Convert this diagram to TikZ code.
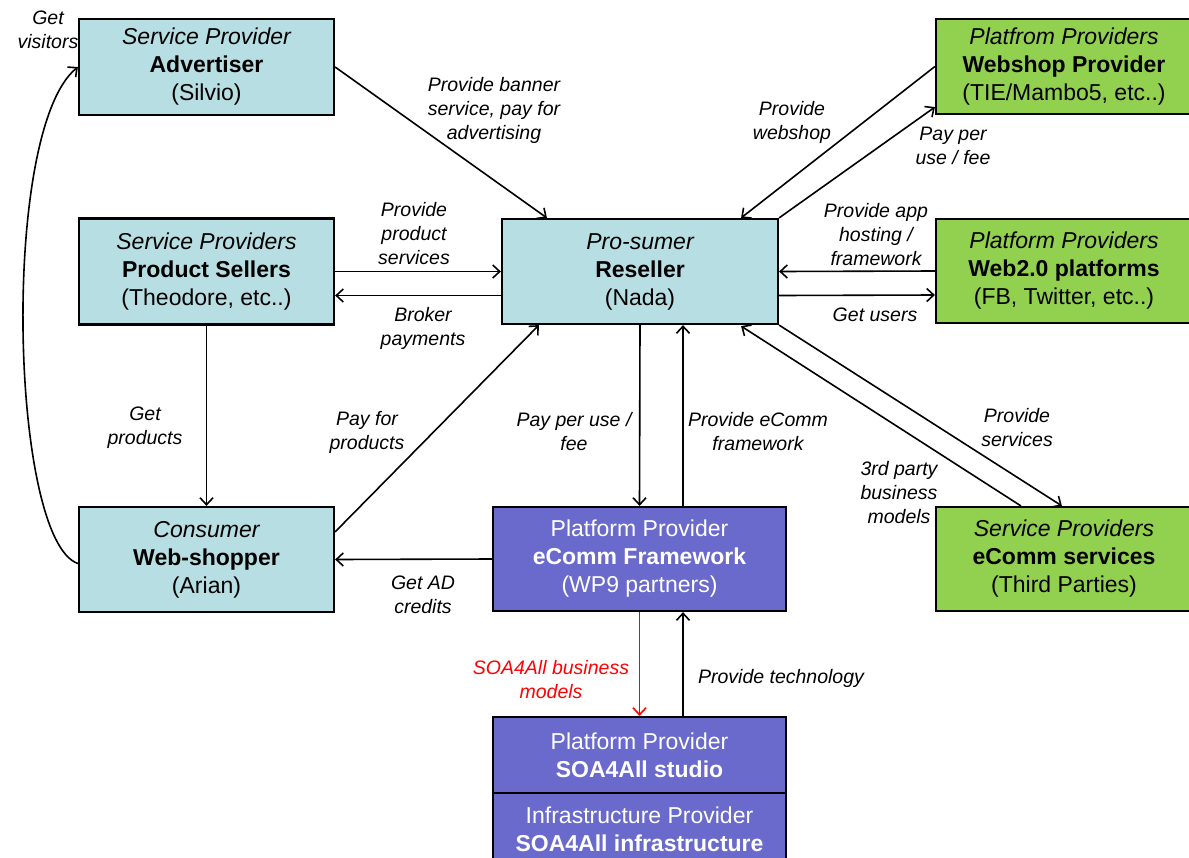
\documentclass[tikz,border=0pt]{standalone}
\usepackage{fontspec}
\setmainfont{Liberation Sans}
\usetikzlibrary{arrows.meta,calc}
\definecolor{bluefill}{RGB}{183,222,226}
\definecolor{greenfill}{RGB}{146,208,80}
\definecolor{purplefill}{RGB}{106,106,204}
\definecolor{redtext}{RGB}{255,0,0}
\begin{document}
\begin{tikzpicture}[x=1pt,y=-1pt,
  box/.style={draw=black,line width=2.2pt,inner sep=0pt,align=center,font=\fontsize{23}{28}\selectfont},
  bluebox/.style={box,fill=bluefill},
  greenbox/.style={box,fill=greenfill},
  purplebox/.style={box,fill=purplefill,text=white},
  lbl/.style={align=center,inner sep=0pt,font=\fontsize{19.5}{24}\selectfont\itshape},
  conn/.style={line width=1.6pt,-{Straight Barb[length=7pt,width=13pt]}},
  plain/.style={line width=1.5pt}
]
\useasboundingbox (0,0) rectangle (1189,857);

% boxes
\node[bluebox,minimum width=255pt,minimum height=96pt] (adv) at (206.5,67)
  {{\itshape Service Provider}\\{\bfseries Advertiser}\\(Silvio)};
\node[bluebox,minimum width=255pt,minimum height=106pt] (ps) at (206.5,271.5)
  {{\itshape Service Providers}\\{\bfseries Product Sellers}\\(Theodore, etc..)};
\node[bluebox,minimum width=255pt,minimum height=105pt] (con) at (206.5,559.5)
  {{\itshape Consumer}\\{\bfseries Web-shopper}\\(Arian)};
\node[bluebox,minimum width=276pt,minimum height=105pt] (res) at (640,271.5)
  {{\itshape Pro-sumer}\\{\bfseries Reseller}\\(Nada)};
\node[greenbox,minimum width=256pt,minimum height=95pt] (web) at (1064,66.5)
  {{\itshape Platfrom Providers}\\{\bfseries Webshop Provider}\\(TIE/Mambo5, etc..)};
\node[greenbox,minimum width=256pt,minimum height=104pt] (w2) at (1064,271)
  {{\itshape Platform Providers}\\{\bfseries Web2.0 platforms}\\(FB, Twitter, etc..)};
\node[greenbox,minimum width=256pt,minimum height=104pt] (ecs) at (1064,559)
  {{\itshape Service Providers}\\{\bfseries eComm services}\\(Third Parties)};
\node[purplebox,minimum width=293pt,minimum height=104pt] (fw) at (639.5,559)
  {Platform Provider\\{\bfseries eComm Framework}\\(WP9 partners)};
\node[purplebox,minimum width=293pt,minimum height=76pt] (st) at (639.5,755)
  {Platform Provider\\{\bfseries SOA4All studio}};
\node[purplebox,minimum width=293pt,minimum height=72pt] (inf) at (639.5,829)
  {Infrastructure Provider\\{\bfseries SOA4All infrastructure}};

% connectors
\draw[conn] (adv.east) -- ($(res.north west)+(46,0)$);
\draw[conn] (ps.east) -- (res.west);
\draw[conn] ($(res.west)+(0,24)$) -- ($(ps.east)+(0,24)$);
\draw[conn] (ps.south) -- (con.north);
\draw[conn] ($(con.north east)+(0,26)$) -- ($(res.south west)+(38,0)$);
\draw[conn] (fw.west) -- (con.east);
\draw[conn] ($(con.west)+(0,4)$) .. controls (10,540) and (0,130) .. (adv.west);
\draw[conn] (res.south) -- (fw.north);
\draw[conn] ($(fw.north)+(43.5,0)$) -- ($(res.south)+(43,0)$);
\draw[conn] (web.west) -- ($(res.north east)+(-38,0)$);
\draw[conn] (res.north east) -- ($(web.south west)+(0,-8)$);
\draw[conn] (w2.west) -- (res.east);
\draw[conn] ($(res.east)+(0,24)$) -- ($(w2.west)+(0,24)$);
\draw[conn] ($(ecs.north west)+(86,0)$) -- ($(res.south east)+(-38,1)$);
\draw[conn] (res.south east) -- ($(ecs.north west)+(127,0)$);
\draw[conn,draw=red] (fw.south) -- (st.north);
\draw[conn] ($(st.north)+(43.5,0)$) -- ($(fw.south)+(43.5,0)$);

% labels
\node[lbl] (l1) at (48,30) {Get\\visitors};
\node[lbl] (l2) at (494,110) {Provide banner\\service, pay for\\advertising};
\node[lbl] (l3) at (792,122) {Provide\\webshop};
\node[lbl] (l4) at (953,146) {Pay per\\use / fee};
\node[lbl] (l5) at (414,234) {Provide\\product\\services};
\node[lbl] (l6) at (423,328) {Broker\\payments};
\node[lbl] (l7) at (876,235) {Provide app\\hosting /\\framework};
\node[lbl] (l8) at (875,315) {Get users};
\node[lbl] (l9) at (145,428) {Get\\products};
\node[lbl] (l10) at (367,432) {Pay for\\products};
\node[lbl] (l11) at (423,595) {Get AD\\credits};
\node[lbl] (l12) at (574,432) {Pay per use /\\fee};
\node[lbl] (l13) at (758,432) {Provide eComm\\framework};
\node[lbl] (l14) at (899,493) {3rd party\\business\\models};
\node[lbl] (l15) at (1017,428) {Provide\\services};
\node[lbl,text=redtext] (l16) at (551,680) {SOA4All business\\models};
\node[lbl] (l17) at (781,678) {Provide technology};
\end{tikzpicture}
\end{document}
